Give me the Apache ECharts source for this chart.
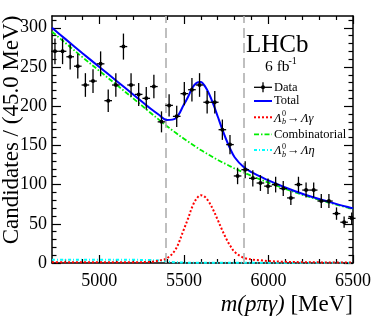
<!DOCTYPE html>
<html><head><meta charset="utf-8">
<script src="https://cdn.jsdelivr.net/npm/echarts@6/dist/echarts.min.js"></script>
<style>html,body{margin:0;padding:0;background:#fff}#c{width:374px;height:316px}</style>
</head><body><div id="c"></div>
<script>
// ---- data ----
const binCenters = [4737.5, 4782.5, 4827.5, 4872.5, 4917.5, 4962.5, 5007.5, 5052.5, 5097.5, 5142.5,
  5187.5, 5232.5, 5277.5, 5322.5, 5367.5, 5412.5, 5457.5, 5502.5, 5547.5, 5592.5,
  5637.5, 5682.5, 5727.5, 5772.5, 5817.5, 5862.5, 5907.5, 5952.5, 5997.5, 6042.5,
  6087.5, 6132.5, 6177.5, 6222.5, 6267.5, 6312.5, 6357.5, 6402.5, 6447.5, 6492.5];
const counts = [270, 270, 263, 251, 227, 232, 254, 207, 227, 276,
  227, 215, 210, 225, 180, 201, 187, 216, 221, 227,
  205, 205, 170, 151, 111, 119, 108, 102, 98, 100,
  95, 83, 100, 93, 93, 79, 79, 63, 52, 57];
const errors = [16.4, 16.4, 16.2, 15.8, 15.1, 15.2, 15.9, 14.4, 15.1, 16.6,
  15.1, 14.7, 14.5, 15.0, 13.4, 14.2, 13.7, 14.7, 14.9, 15.1,
  14.3, 14.3, 13.0, 12.3, 10.5, 10.9, 10.4, 10.1, 9.9, 10.0,
  9.7, 9.1, 10.0, 9.6, 9.6, 8.9, 8.9, 7.9, 7.2, 7.5];
const halfBin = 22.5;

const curveMass = [4720, 4800, 4900, 5000, 5100, 5200, 5300, 5350, 5400, 5450, 5500, 5525, 5550, 5575, 5600,
  5625, 5650, 5675, 5700, 5725, 5750, 5775, 5800, 5850, 5900, 5950, 6000, 6100, 6200, 6300, 6400, 6500];
const totalFit = [300, 285.5, 267.5, 250, 232.5, 215, 197.3, 189.4, 182.5, 184.3, 202, 212.1, 223.5, 229.8, 230.8,
  225.2, 215.2, 201.9, 186.8, 171.6, 157.5, 145.1, 134.9, 123, 115.8, 110.5, 105.3, 96.3, 88.3, 81.6, 75.4, 69.7];
const signalFit = [1, 1, 1, 1, 1, 1, 1.5, 3, 6, 17, 43, 57, 72, 82, 86.5,
  84.1, 77.2, 67, 55, 42.6, 31.2, 21.6, 14.1, 7, 4.5, 3.5, 2.5, 1.5, 1, 0.8, 0.6, 0.5];
const combinatorialFit = [295, 280.5, 262.5, 245, 227.5, 210, 192, 183.2, 174.5, 166.3, 158.5, 154.8, 151.2, 147.5, 144,
  140.8, 137.7, 134.6, 131.5, 128.7, 126, 123.2, 120.5, 115.7, 111, 106.7, 102.5, 94.5, 87, 80.5, 74.5, 69];
const lambdaEtaFit = [4, 4, 4, 4, 4, 4, 3.8, 3.2, 2, 1, 0.5, 0.4, 0.3, 0.3, 0.3,
  0.3, 0.3, 0.3, 0.3, 0.3, 0.3, 0.3, 0.3, 0.3, 0.3, 0.3, 0.3, 0.3, 0.2, 0.2, 0.2, 0.2];

const signalWindow = [5390, 5855];
const xMajorTicks = [5000, 5500, 6000, 6500];
const xMinorTicks = [4800, 4900, 5100, 5200, 5300, 5400, 5600, 5700, 5800, 5900, 6100, 6200, 6300, 6400];
const yMajorTicks = [0, 50, 100, 150, 200, 250, 300];
const yMinorTicks = [10, 20, 30, 40, 60, 70, 80, 90, 110, 120, 130, 140, 160, 170, 180, 190,
  210, 220, 230, 240, 260, 270, 280, 290, 310];
const xRange = [4720, 6500];
const yRange = [0, 315];

// ---- chart ----
const FONT = 'Liberation Serif';
const chart = echarts.init(document.getElementById('c'), null, {renderer: 'canvas'});
const pair = arr => curveMass.map((m, i) => [m, arr[i]]);
const plain = v => String(v);

function xAxisDef(pos, ticks, len, line, labels) {
  return {
    type: 'value', min: xRange[0], max: xRange[1], position: pos,
    axisLine: {show: line, onZero: false, lineStyle: {color: '#000', width: 1.5}},
    axisTick: {show: true, inside: true, length: len, customValues: ticks, lineStyle: {color: '#000', width: 1.2}},
    axisLabel: labels ? {show: true, customValues: xMajorTicks, formatter: plain, color: '#000', fontFamily: FONT, fontSize: 18, margin: 9}
                      : {show: false},
    splitLine: {show: false}
  };
}
function yAxisDef(pos, ticks, len, line, labels) {
  return {
    type: 'value', min: yRange[0], max: yRange[1], position: pos,
    axisLine: {show: line, onZero: false, lineStyle: {color: '#000', width: 1.5}},
    axisTick: {show: true, inside: true, length: len, customValues: ticks, lineStyle: {color: '#000', width: 1.2}},
    axisLabel: labels ? {show: true, customValues: yMajorTicks, formatter: plain, color: '#000', fontFamily: FONT, fontSize: 18, margin: 5}
                      : {show: false},
    splitLine: {show: false}
  };
}

const xAxes = [
  xAxisDef('bottom', xMajorTicks, 8, true, true),
  xAxisDef('bottom', xMinorTicks, 4, false, false),
  xAxisDef('top', xMajorTicks, 8, true, false),
  xAxisDef('top', xMinorTicks, 4, false, false)
];
xAxes[0].name = '{i|m(pπγ)} [MeV]';
xAxes[0].nameLocation = 'end';
xAxes[0].nameGap = 0;
xAxes[0].nameTextStyle = {
  color: '#000', fontFamily: FONT, fontSize: 23, align: 'right', verticalAlign: 'top', padding: [30, 0, 0, 0],
  rich: {i: {fontStyle: 'italic', fontFamily: FONT, fontSize: 23, color: '#000'}}
};
const yAxes = [
  yAxisDef('left', yMajorTicks, 9, true, true),
  yAxisDef('left', yMinorTicks, 4.5, false, false),
  yAxisDef('right', yMajorTicks, 9, true, false),
  yAxisDef('right', yMinorTicks, 4.5, false, false)
];

function lineSeries(name, arr, color, type, width, z) {
  return {
    name, type: 'line', data: pair(arr), showSymbol: false, smooth: 0.35, z,
    xAxisIndex: 0, yAxisIndex: 0,
    lineStyle: {color, type, width}, clip: true
  };
}

const txt = (x, y, text, size, extra) => ({
  type: 'text', x, y, silent: true,
  style: Object.assign({text, fill: '#000', font: `${size}px "${FONT}"`, textVerticalAlign: 'middle'}, extra || {})
});
const seg = (x1, y1, x2, y2, stroke, width, dash) => ({
  type: 'line', silent: true, shape: {x1, y1, x2, y2},
  style: {stroke, lineWidth: width, lineDash: dash || null}
});
const italic = size => `italic ${size}px "${FONT}"`;

const lx1 = 254, lx2 = 272, tx = 274;
const rows = [87.3, 101, 117.3, 134.3, 150];
const legendGraphics = [
  txt(246, 45, 'LHCb', 25),
  txt(265, 67, '6 fb', 15.5),
  txt(288.5, 61.5, '-1', 10),
  // Data
  seg(lx1, rows[0], lx2, rows[0], '#000', 1.3), seg(263, rows[0] - 5, 263, rows[0] + 5, '#000', 1.3),
  {type: 'circle', silent: true, shape: {cx: 263, cy: rows[0], r: 2}, style: {fill: '#000'}},
  txt(tx, rows[0], 'Data', 12.5),
  // Total
  seg(lx1, rows[1], lx2, rows[1], '#0000ff', 2),
  txt(tx, rows[1], 'Total', 12.5),
  // Lb -> L gamma
  seg(lx1, rows[2], lx2, rows[2], '#ff0000', 2, [2, 2]),
  txt(tx, rows[2] + 1, 'Λ', 12.5, {font: italic(12.5)}),
  txt(282, rows[2] - 3.5, '0', 8),
  txt(282, rows[2] + 4.5, 'b', 8, {font: italic(8)}),
  txt(287, rows[2] + 1, '→', 12.5),
  txt(301, rows[2] + 1, 'Λγ', 12.5, {font: italic(12.5)}),
  // Combinatorial
  seg(lx1, rows[3], lx2, rows[3], '#00ee00', 1.8, [5, 2, 1.5, 2]),
  txt(tx, rows[3], 'Combinatorial', 12.5),
  // Lb -> L eta
  seg(lx1, rows[4], lx2, rows[4], '#00ffff', 2, [3, 2, 1, 2]),
  txt(tx, rows[4] + 1, 'Λ', 12.5, {font: italic(12.5)}),
  txt(282, rows[4] - 3.5, '0', 8),
  txt(282, rows[4] + 4.5, 'b', 8, {font: italic(8)}),
  txt(287, rows[4] + 1, '→', 12.5),
  txt(301, rows[4] + 1, 'Λη', 12.5, {font: italic(12.5)}),
  // y-axis title
  {type: 'text', x: 12, y: 130, rotation: Math.PI / 2, silent: true,
   style: {text: 'Candidates / (45.0 MeV)', fill: '#000', font: `23px "${FONT}"`, textAlign: 'center', textVerticalAlign: 'middle'}}
];

const option = {
  animation: false,
  backgroundColor: '#fff',
  grid: {left: 52, right: 19, top: 16, bottom: 51, containLabel: false},
  xAxis: xAxes,
  yAxis: yAxes,
  series: [
    Object.assign(lineSeries('Combinatorial', combinatorialFit, '#00ee00', [5, 2, 1.5, 2], 1.8, 2), {
      markLine: {
        silent: true, symbol: ['none', 'none'], label: {show: false},
        lineStyle: {color: '#b0b0b0', type: [10, 5], width: 1.6},
        data: signalWindow.map(v => ({xAxis: v}))
      }
    }),
    lineSeries('Λb0 → Λη', lambdaEtaFit, '#00ffff', [3, 2, 1, 2], 2, 3),
    lineSeries('Λb0 → Λγ', signalFit, '#ff0000', [2, 2], 2, 4),
    lineSeries('Total', totalFit, '#0000ff', 'solid', 2, 5),
    {
      name: 'Data', type: 'custom', xAxisIndex: 0, yAxisIndex: 0, z: 10,
      data: binCenters.map((m, i) => [m, counts[i], errors[i]]),
      encode: {x: 0, y: 1},
      renderItem(params, api) {
        const x = api.value(0), y = api.value(1), e = api.value(2);
        const c = api.coord([x, y]);
        const t = api.coord([x, y + e]);
        const b = api.coord([x, y - e]);
        const l = api.coord([x - halfBin, y]);
        const r = api.coord([x + halfBin, y]);
        return {type: 'group', children: [
          {type: 'line', shape: {x1: c[0], y1: t[1], x2: c[0], y2: b[1]}, style: {stroke: '#000', lineWidth: 1.3}},
          {type: 'line', shape: {x1: l[0], y1: c[1], x2: r[0], y2: c[1]}, style: {stroke: '#000', lineWidth: 1.3}},
          {type: 'circle', shape: {cx: c[0], cy: c[1], r: 2}, style: {fill: '#000'}}
        ]};
      }
    }
  ],
  graphic: legendGraphics
};
chart.setOption(option);
</script>
</body></html>
